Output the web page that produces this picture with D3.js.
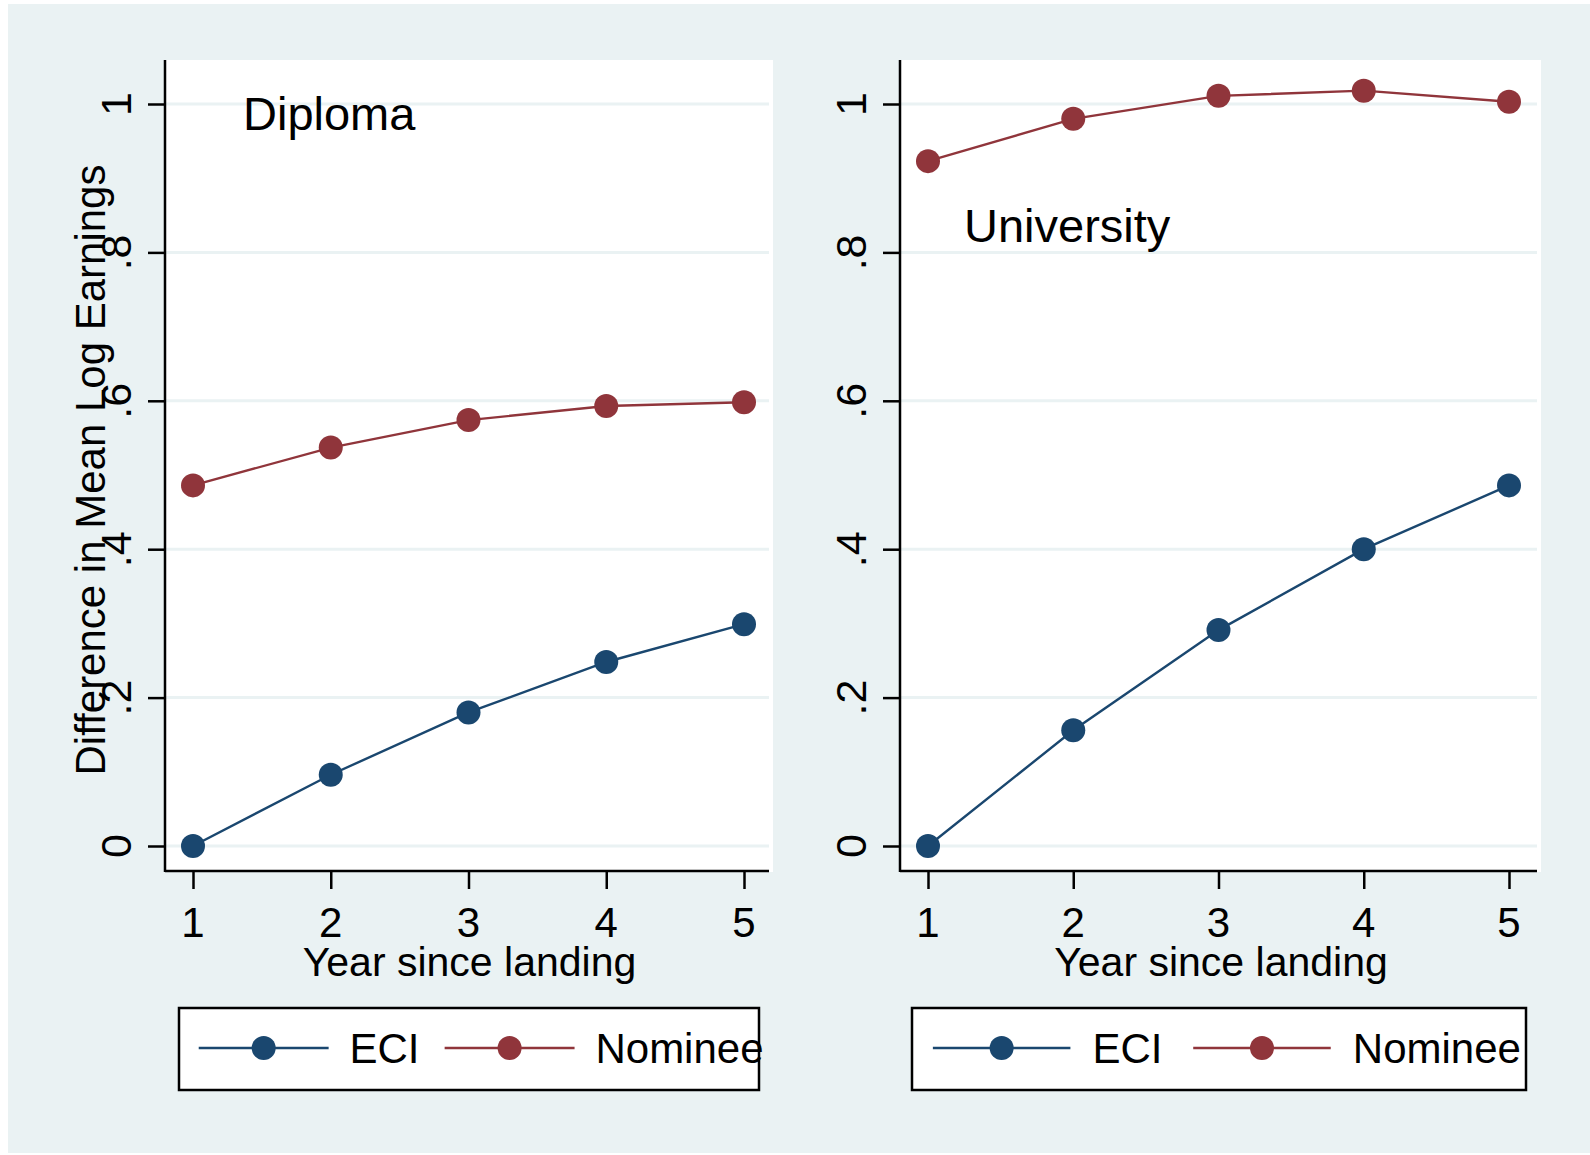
<!DOCTYPE html>
<html>
<head>
<meta charset="utf-8">
<script src="https://cdn.jsdelivr.net/npm/d3@7"></script>
<style>
  body { margin: 0; background: #fff; }
  text { font-family: "Liberation Sans", Arial, Helvetica, sans-serif; fill: #000; }
</style>
</head>
<body>
<div id="chart"></div>
<script>
// data
const years = [1, 2, 3, 4, 5];
const panelTitles = ["Diploma", "University"];
const seriesNames = ["ECI", "Nominee"];
const diplomaECI = [0.0, 0.096, 0.180, 0.248, 0.299];
const diplomaNominee = [0.486, 0.537, 0.574, 0.593, 0.598];
const universityECI = [0.0, 0.156, 0.291, 0.400, 0.486];
const universityNominee = [0.923, 0.980, 1.011, 1.018, 1.003];
const yTicks = [0, 0.2, 0.4, 0.6, 0.8, 1];
const yTickLabels = ["0", ".2", ".4", ".6", ".8", "1"];
const yTitle = "Difference in Mean Log Earnings";
const xTitle = "Year since landing";

const colors = { ECI: "#1a476f", Nominee: "#90353b" };
const width = 1590, height = 1155;

const svg = d3.select("#chart").append("svg")
    .attr("width", width)
    .attr("height", height);

svg.append("rect")
    .attr("x", 8).attr("y", 4)
    .attr("width", width - 8).attr("height", 1149)
    .attr("fill", "#eaf2f3");

const panels = [
    { title: panelTitles[0], series: [diplomaECI, diplomaNominee], left: 166, right: 773, xr: [193, 744],
      titleX: 243, titleY: 130, ylab: 131, legend: [179, 759], showYTitle: true },
    { title: panelTitles[1], series: [universityECI, universityNominee], left: 901, right: 1541, xr: [928, 1509],
      titleX: 964, titleY: 242, ylab: 866, legend: [912, 1526], showYTitle: false }
];

const plotTop = 60, plotBottom = 872;
const y = d3.scaleLinear().domain([0, 1]).range([846, 104]);

panels.forEach(p => {
    const x = d3.scaleLinear().domain([1, 5]).range(p.xr);
    const g = svg.append("g");

    g.append("rect")
        .attr("x", p.left).attr("y", plotTop)
        .attr("width", p.right - p.left).attr("height", plotBottom - plotTop)
        .attr("fill", "#fff");

    // gridlines
    g.selectAll(".grid")
        .data(yTicks)
        .enter().append("line")
        .attr("class", "grid")
        .attr("x1", p.left).attr("x2", p.right - 4)
        .attr("y1", d => y(d)).attr("y2", d => y(d))
        .attr("stroke", "#eaf2f3")
        .attr("stroke-width", 3);

    // y axis
    const yAxis = g.append("g")
        .attr("transform", `translate(${p.left - 1},0)`)
        .call(d3.axisLeft(y).tickValues(yTicks).tickSize(17).tickFormat(""));
    yAxis.select(".domain").attr("d", `M0,${plotTop}V${plotBottom}`).attr("stroke", "#000").attr("stroke-width", 2.5);
    yAxis.selectAll(".tick line").attr("stroke", "#000").attr("stroke-width", 2.5);

    g.selectAll(".ylab")
        .data(yTicks)
        .enter().append("text")
        .attr("class", "ylab")
        .attr("transform", d => `translate(${p.ylab},${y(d)}) rotate(-90)`)
        .attr("text-anchor", "middle")
        .style("font-size", "43px")
        .text((d, i) => yTickLabels[i]);

    // x axis
    const xAxis = g.append("g")
        .attr("transform", `translate(0,${plotBottom - 1})`)
        .call(d3.axisBottom(x).tickValues(years).tickSize(18).tickFormat(""));
    xAxis.select(".domain").attr("d", `M${p.left - 1},0H${p.right - 4}`).attr("stroke", "#000").attr("stroke-width", 2.5);
    xAxis.selectAll(".tick line").attr("stroke", "#000").attr("stroke-width", 2.5);

    g.selectAll(".xlab")
        .data(years)
        .enter().append("text")
        .attr("class", "xlab")
        .attr("x", d => x(d))
        .attr("y", 937)
        .attr("text-anchor", "middle")
        .style("font-size", "42px")
        .text(d => d);

    g.append("text")
        .attr("x", (p.left + p.right) / 2)
        .attr("y", 976)
        .attr("text-anchor", "middle")
        .style("font-size", "41px")
        .text(xTitle);

    if (p.showYTitle) {
        g.append("text")
            .attr("transform", `translate(105,${(plotTop + plotBottom) / 2 + 4}) rotate(-90)`)
            .attr("text-anchor", "middle")
            .style("font-size", "42px")
            .text(yTitle);
    }

    // series
    const line = d3.line().x((d, i) => x(years[i])).y(d => y(d));
    p.series.forEach((vals, k) => {
        const c = colors[seriesNames[k]];
        g.append("path")
            .attr("d", line(vals))
            .attr("fill", "none")
            .attr("stroke", c)
            .attr("stroke-width", 2.4);
        g.selectAll(".pt" + k)
            .data(vals)
            .enter().append("circle")
            .attr("class", "pt" + k)
            .attr("cx", (d, i) => x(years[i]))
            .attr("cy", d => y(d))
            .attr("r", 12)
            .attr("fill", c);
    });

    g.append("text")
        .attr("x", p.titleX)
        .attr("y", p.titleY)
        .style("font-size", "47px")
        .text(p.title);

    // legend
    const lw = p.legend[1] - p.legend[0];
    const lg = g.append("g").attr("transform", `translate(${p.legend[0]},1008)`);
    lg.append("rect")
        .attr("width", lw).attr("height", 82)
        .attr("fill", "#fff")
        .attr("stroke", "#000")
        .attr("stroke-width", 2.5);
    const slots = [0.034, 0.458];
    seriesNames.forEach((name, k) => {
        const sx = lw * slots[k];
        const len = lw * 0.224;
        lg.append("line")
            .attr("x1", sx).attr("x2", sx + len)
            .attr("y1", 40).attr("y2", 40)
            .attr("stroke", colors[name])
            .attr("stroke-width", 2.4);
        lg.append("circle")
            .attr("cx", sx + len / 2).attr("cy", 40)
            .attr("r", 12)
            .attr("fill", colors[name]);
        lg.append("text")
            .attr("x", sx + len + lw * 0.036)
            .attr("y", 55)
            .style("font-size", "42px")
            .text(name);
    });
});
</script>
</body>
</html>
